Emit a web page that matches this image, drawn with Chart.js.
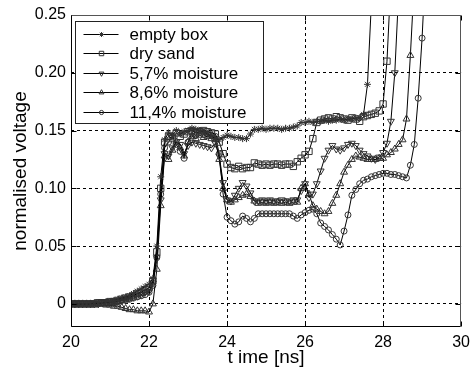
<!DOCTYPE html>
<html>
<head>
<meta charset="utf-8">
<script src="https://cdn.jsdelivr.net/npm/chart.js@4/dist/chart.umd.min.js"></script>
<style>
  html, body { margin: 0; padding: 0; background: #fff; }
  canvas { display: block; }
</style>
</head>
<body>
<canvas id="c" width="476" height="371"></canvas>
<script>
// sample times [ns]
const times = [
  20.0, 20.1, 20.2, 20.3, 20.4, 20.5, 20.6, 20.7, 20.8, 20.9,
  21.0, 21.1, 21.2, 21.3, 21.4, 21.5, 21.6, 21.7, 21.8, 21.9,
  22.0, 22.1, 22.2, 22.3, 22.4, 22.5, 22.6, 22.7, 22.8, 22.9,
  23.0, 23.1, 23.2, 23.3, 23.4, 23.5, 23.6, 23.7, 23.8, 23.9,
  24.0, 24.1, 24.2, 24.3, 24.4, 24.5, 24.6, 24.7, 24.8, 24.9,
  25.0, 25.1, 25.2, 25.3, 25.4, 25.5, 25.6, 25.7, 25.8, 25.9,
  26.0, 26.1, 26.2, 26.3, 26.4, 26.5, 26.6, 26.7, 26.8, 26.9,
  27.0, 27.1, 27.2, 27.3, 27.4, 27.5, 27.6, 27.7, 27.8, 27.9,
  28.0, 28.1, 28.2, 28.3, 28.4, 28.5, 28.6, 28.7, 28.8, 28.9,
  29.0, 29.1
];

const emptyBox = [
  0, 0, 0, 0, 0, 0, 0.001, 0.001, 0.001, 0.002,
  0.002, 0.003, 0.004, 0.005, 0.006, 0.007, 0.009, 0.011, 0.013, 0.015,
  0.017, 0.022, 0.05, 0.11, 0.142, 0.148, 0.146, 0.15, 0.147, 0.149,
  0.15, 0.152, 0.151, 0.15, 0.149, 0.147, 0.145, 0.143, 0.142, 0.144,
  0.146, 0.145, 0.144, 0.144, 0.143, 0.143, 0.147, 0.151, 0.151, 0.152,
  0.151, 0.152, 0.152, 0.152, 0.151, 0.152, 0.152, 0.153, 0.154, 0.157,
  0.157, 0.158, 0.157, 0.158, 0.158, 0.159, 0.158, 0.159, 0.159, 0.16,
  0.159, 0.16, 0.16, 0.161, 0.161, 0.164, 0.19, 0.26
];

const drySand = [
  0, 0, 0, 0, 0, 0, 0, 0.001, 0.001, 0.001,
  0.002, 0.002, 0.003, 0.004, 0.005, 0.006, 0.007, 0.009, 0.01, 0.012,
  0.014, 0.02, 0.045, 0.1, 0.14, 0.145, 0.143, 0.148, 0.145, 0.147,
  0.149, 0.15, 0.148, 0.149, 0.15, 0.149, 0.148, 0.147, 0.14, 0.13,
  0.121, 0.118, 0.117, 0.119, 0.117, 0.118, 0.118, 0.122, 0.121, 0.12,
  0.121, 0.12, 0.121, 0.121, 0.12, 0.121, 0.121, 0.119, 0.123, 0.126,
  0.129, 0.132, 0.143, 0.157, 0.159, 0.16, 0.161, 0.16, 0.162, 0.161,
  0.16, 0.159, 0.161, 0.16, 0.158, 0.162, 0.163, 0.164, 0.165, 0.167,
  0.173, 0.21, 0.28
];

const moist57 = [
  0, 0, 0, 0, 0, 0, 0, 0, 0.001, 0.001,
  0.001, 0.002, 0.002, 0.003, 0.004, 0.005, 0.006, 0.007, 0.008, 0.01,
  0.011, 0.018, 0.04, 0.09, 0.13, 0.128, 0.135, 0.14, 0.138, 0.13,
  0.137, 0.14, 0.139, 0.138, 0.137, 0.136, 0.135, 0.139, 0.128, 0.105,
  0.09, 0.089, 0.094, 0.1, 0.105, 0.102, 0.096, 0.089, 0.089, 0.09,
  0.089, 0.09, 0.089, 0.089, 0.09, 0.089, 0.089, 0.09, 0.09, 0.098,
  0.104, 0.092, 0.095, 0.104, 0.115, 0.126, 0.133, 0.137, 0.134, 0.133,
  0.135, 0.138, 0.139, 0.137, 0.133, 0.13, 0.128, 0.126, 0.125, 0.127,
  0.131, 0.139, 0.158, 0.2, 0.27
];

const moist86 = [
  0, 0, 0, 0, 0, 0, 0, 0, 0, -0.001,
  -0.001, -0.002, -0.002, -0.003, -0.004, -0.005, -0.005, -0.006, -0.006, -0.006,
  -0.007, 0, 0.03, 0.085, 0.128, 0.125, 0.133, 0.14, 0.135, 0.128,
  0.14, 0.145, 0.143, 0.146, 0.144, 0.145, 0.143, 0.142, 0.125, 0.1,
  0.09, 0.088, 0.09, 0.092, 0.094, 0.095, 0.093, 0.089, 0.087, 0.088,
  0.087, 0.088, 0.087, 0.088, 0.087, 0.088, 0.087, 0.088, 0.088, 0.1,
  0.104, 0.095, 0.085, 0.082, 0.08, 0.078, 0.08, 0.087, 0.094, 0.104,
  0.114, 0.12, 0.125, 0.128, 0.127, 0.126, 0.125, 0.125, 0.125, 0.126,
  0.126, 0.129, 0.131, 0.134, 0.138, 0.142, 0.16, 0.215, 0.28
];

const moist114 = [
  0, 0, 0, 0, 0, 0, 0, 0, 0.001, 0.001,
  0.001, 0.001, 0.002, 0.003, 0.003, 0.004, 0.005, 0.006, 0.007, 0.008,
  0.01, 0.016, 0.04, 0.095, 0.135, 0.14, 0.145, 0.138, 0.132, 0.126,
  0.14, 0.148, 0.146, 0.15, 0.148, 0.147, 0.146, 0.145, 0.13, 0.095,
  0.075, 0.072, 0.069, 0.071, 0.076, 0.074, 0.071, 0.074, 0.078, 0.078,
  0.078, 0.078, 0.078, 0.078, 0.078, 0.078, 0.078, 0.076, 0.074, 0.077,
  0.079, 0.081, 0.082, 0.078, 0.07, 0.067, 0.064, 0.06, 0.056, 0.051,
  0.063, 0.077, 0.094, 0.099, 0.104, 0.107, 0.108, 0.11, 0.111, 0.112,
  0.113, 0.113, 0.112, 0.112, 0.111, 0.11, 0.109, 0.12, 0.138, 0.178,
  0.23, 0.3
];

const xTicks = [20, 22, 24, 26, 28, 30];
const yTicks = [0, 0.05, 0.1, 0.15, 0.2, 0.25];

const FONT = "'Liberation Sans', Arial, sans-serif";

const series = [
  { label: 'empty box',     values: emptyBox, style: 'star',     rot: 0,   r: 3.5 },
  { label: 'dry sand',      values: drySand,  style: 'rect',     rot: 0,   r: 4.5 },
  { label: '5,7% moisture', values: moist57,  style: 'triangle', rot: 180, r: 4 },
  { label: '8,6% moisture', values: moist86,  style: 'triangle', rot: 0,   r: 4 },
  { label: '11,4% moisture',values: moist114, style: 'circle',   rot: 0,   r: 3 }
];

const datasets = series.map(s => ({
  label: s.label,
  data: s.values.map((v, i) => ({ x: times[i], y: v })),
  borderColor: '#000',
  borderWidth: 1,
  pointStyle: s.style,
  pointRotation: s.rot,
  pointRadius: s.r,
  pointBorderColor: '#333',
  pointBackgroundColor: 'rgba(0,0,0,0)',
  pointBorderWidth: 1,
  fill: false
}));

function marker(ctx, style, rot, r, x, y) {
  ctx.beginPath();
  if (style === 'star') {
    ctx.moveTo(x - r, y); ctx.lineTo(x + r, y);
    ctx.moveTo(x, y - r); ctx.lineTo(x, y + r);
    const d = r * 0.707;
    ctx.moveTo(x - d, y - d); ctx.lineTo(x + d, y + d);
    ctx.moveTo(x - d, y + d); ctx.lineTo(x + d, y - d);
  } else if (style === 'rect') {
    const s = r * 0.707;
    ctx.rect(x - s, y - s, 2 * s, 2 * s);
  } else if (style === 'triangle') {
    const k = rot ? -1 : 1;
    ctx.moveTo(x, y - k * r);
    ctx.lineTo(x - r * 0.866, y + k * r * 0.5);
    ctx.lineTo(x + r * 0.866, y + k * r * 0.5);
    ctx.closePath();
  } else {
    ctx.arc(x, y, r, 0, Math.PI * 2);
  }
  ctx.stroke();
}

const framePlugin = {
  id: 'frame',
  afterDatasetsDraw(chart) {
    const { ctx, chartArea: a, scales } = chart;
    const L = Math.round(a.left) + 0.5, R = Math.round(a.right) - 0.5;
    const T = Math.round(a.top) + 0.5, B = Math.round(a.bottom) - 0.5;
    ctx.save();
    ctx.lineWidth = 1;
    ctx.strokeStyle = '#000';
    ctx.setLineDash([]);
    // inward ticks
    ctx.beginPath();
    xTicks.forEach(v => {
      const px = Math.round(scales.x.getPixelForValue(v)) + 0.5;
      ctx.moveTo(px, T); ctx.lineTo(px, T + 5);
      ctx.moveTo(px, B); ctx.lineTo(px, B - 5);
    });
    yTicks.forEach(v => {
      const py = Math.round(scales.y.getPixelForValue(v)) + 0.5;
      ctx.moveTo(L, py); ctx.lineTo(L + 5, py);
      ctx.moveTo(R, py); ctx.lineTo(R - 5, py);
    });
    ctx.stroke();
    // box
    ctx.strokeStyle = '#555';
    ctx.beginPath();
    ctx.moveTo(L, T); ctx.lineTo(R, T); ctx.lineTo(R, B);
    ctx.stroke();
    ctx.strokeStyle = '#000';
    ctx.beginPath();
    ctx.moveTo(L, T); ctx.lineTo(L, B); ctx.lineTo(R, B);
    ctx.stroke();

    // legend
    const lx = L + 4, ly = T + 6, lw = 188, lh = 102;
    ctx.fillStyle = '#fff';
    ctx.fillRect(lx, ly, lw, lh);
    ctx.strokeStyle = '#222';
    ctx.strokeRect(lx, ly, lw, lh);
    ctx.font = '17px ' + FONT;
    ctx.textBaseline = 'middle';
    ctx.textAlign = 'left';
    series.forEach((s, i) => {
      const yy = Math.round(ly + 12 + i * 19.5) + 0.5;
      ctx.strokeStyle = '#000';
      ctx.beginPath();
      ctx.moveTo(lx + 8, yy); ctx.lineTo(lx + 43, yy);
      ctx.stroke();
      ctx.strokeStyle = '#333';
      marker(ctx, s.style, s.rot, s.r * 0.7, lx + 26, yy);
      ctx.fillStyle = '#000';
      ctx.fillText(s.label, lx + 54, yy + 1);
    });
    ctx.restore();
  }
};

new Chart(document.getElementById('c'), {
  type: 'line',
  data: { datasets },
  plugins: [framePlugin],
  options: {
    responsive: false,
    animation: false,
    devicePixelRatio: 1,
    layout: { padding: { top: 15, right: 9, left: 0, bottom: 0 } },
    plugins: { legend: { display: false }, tooltip: { enabled: false } },
    scales: {
      x: {
        type: 'linear',
        min: 20, max: 30,
        afterBuildTicks: sc => { sc.ticks = xTicks.map(v => ({ value: v })); },
        afterFit: sc => { sc.height = 44; },
        ticks: { color: '#000', font: { family: FONT, size: 16 }, padding: 6, maxRotation: 0 },
        grid: {
          color: c => (c.tick && (c.tick.value === 20 || c.tick.value === 30)) ? 'rgba(0,0,0,0)' : '#000',
          lineWidth: 1,
          drawTicks: false
        },
        border: { display: false, dash: [3, 3] },
        title: { display: true, text: 't ime [ns]', color: '#000', font: { family: FONT, size: 19 }, padding: { top: 0, bottom: 2 } }
      },
      y: {
        type: 'linear',
        min: -0.02, max: 0.25,
        afterBuildTicks: sc => { sc.ticks = yTicks.map(v => ({ value: v })); },
        afterFit: sc => { sc.width = 71; },
        ticks: { color: '#000', font: { family: FONT, size: 16 }, padding: 5 },
        grid: {
          color: c => (c.tick && c.tick.value === 0.25) ? 'rgba(0,0,0,0)' : '#000',
          lineWidth: 1,
          drawTicks: false
        },
        border: { display: false, dash: [3, 3] },
        title: { display: true, text: 'normalised voltage', color: '#000', font: { family: FONT, size: 19 }, padding: { top: 9, bottom: 0 } }
      }
    }
  }
});
</script>
</body>
</html>
